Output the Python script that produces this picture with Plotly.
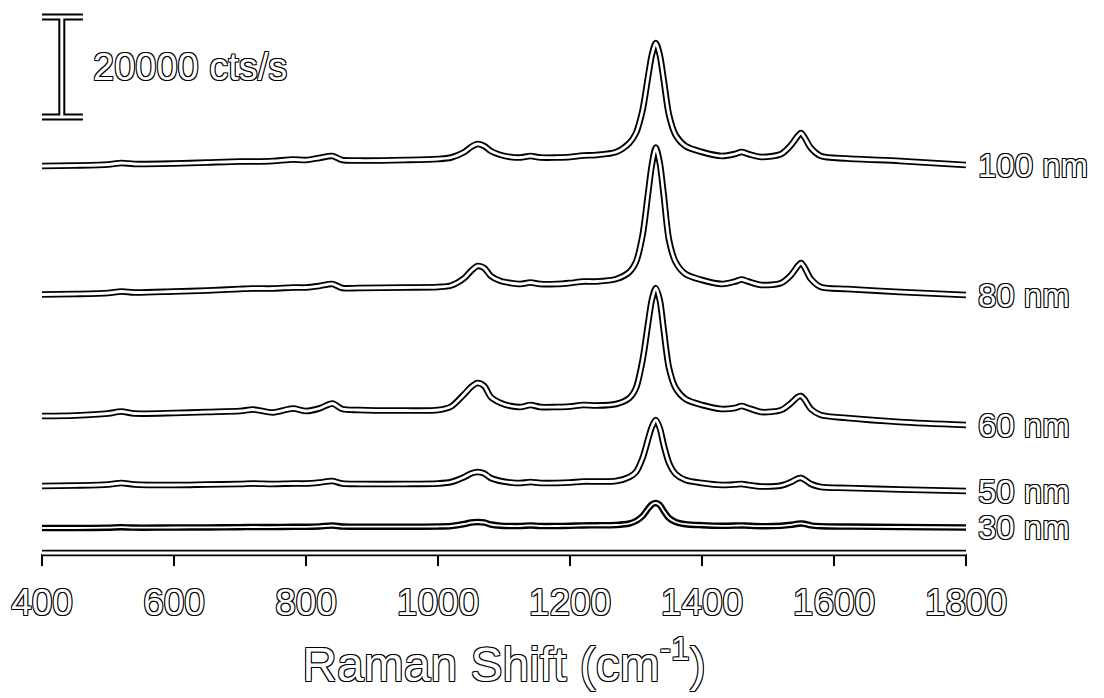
import plotly.graph_objects as go

# Raman shift grid (cm^-1)
shift = [400, 450, 500, 520, 540, 600, 650, 700, 720, 750, 780, 800, 820, 840, 855, 880, 950,
         1000, 1020, 1040, 1050, 1060, 1070, 1080, 1095, 1110, 1125, 1140, 1155, 1180, 1200,
         1220, 1240, 1270, 1290, 1300, 1310, 1318, 1324, 1330, 1336, 1342, 1350, 1360, 1375,
         1400, 1430, 1450, 1460, 1470, 1490, 1520, 1535, 1545, 1550, 1555, 1565, 1580, 1620,
         1700, 1800]

labels = ["100 nm", "80 nm", "60 nm", "50 nm", "30 nm"]
offsets = [77400, 51700, 27400, 13400, 5000]   # vertical stacking offsets (cts/s)

i100 = [0, 100, 300, 600, 400, 500, 700, 900, 900, 1000, 1300, 1200, 1600, 2000, 1200, 1100, 1200,
        1400, 1700, 2800, 3800, 4400, 4000, 3000, 2200, 1800, 1700, 2000, 1700, 1700, 1800,
        2100, 2200, 2800, 4600, 6600, 11200, 17600, 22200, 24600, 22200, 17200, 10200, 6200, 4000,
        2800, 2000, 2400, 2800, 2400, 1800, 2400, 4200, 6000, 6600, 5800, 3600, 2000, 1500,
        1000, 200]
i80 = [0, 100, 300, 600, 400, 600, 800, 1100, 1200, 1200, 1400, 1400, 1700, 2100, 1300, 1300, 1400,
       1500, 1800, 3300, 4700, 5700, 5300, 3700, 2700, 2300, 2100, 2400, 2100, 2100, 2300,
       2600, 2600, 3100, 4500, 6500, 11900, 19900, 25900, 29400, 26300, 19900, 10900, 6500, 4100,
       2900, 2100, 2600, 3000, 2600, 1900, 2300, 3900, 5700, 6300, 5500, 3100, 1500, 1100,
       500, -100]
i60 = [0, 100, 500, 900, 500, 600, 800, 1000, 1300, 700, 1500, 1000, 1500, 2500, 1400, 1200, 1100,
       1200, 1900, 4400, 5800, 6600, 6000, 3800, 2600, 2000, 1800, 2200, 1800, 1800, 1900,
       2200, 2100, 2400, 3600, 5600, 11200, 18200, 23200, 25600, 23200, 17200, 9600, 5600, 3400,
       2200, 1400, 1600, 2000, 1600, 800, 1200, 2600, 3800, 4000, 3400, 1400, 200, -400,
       -1200, -1800]
i50 = [0, 100, 300, 600, 300, 200, 300, 400, 500, 400, 500, 500, 700, 1000, 500, 400, 400,
       500, 800, 1800, 2500, 2800, 2500, 1600, 1000, 700, 600, 800, 600, 600, 700,
       900, 900, 1000, 1800, 2800, 5600, 9200, 11800, 13200, 11600, 8200, 4600, 2400, 1200,
       600, 200, 300, 400, 200, -100, 100, 800, 1500, 1600, 1300, 400, -200, -400,
       -700, -1000]
i30 = [0, 0, 60, 160, 80, 100, 120, 160, 200, 180, 240, 240, 320, 500, 280, 260, 260,
       300, 400, 800, 1100, 1200, 1100, 700, 460, 400, 400, 520, 400, 400, 440,
       520, 540, 600, 900, 1400, 2400, 3800, 4700, 5000, 4600, 3400, 2000, 1200, 760,
       560, 440, 480, 520, 460, 360, 440, 640, 860, 920, 840, 520, 360, 280,
       200, 100]
series = [i100, i80, i60, i50, i30]

scale_bar = 20000          # cts/s
x_ticks = [400, 600, 800, 1000, 1200, 1400, 1600, 1800]

FONT = "Liberation Sans, Arial, sans-serif"
OUTLINE = "-1px -1px 0 #000, 1px -1px 0 #000, -1px 1px 0 #000, 1px 1px 0 #000"

fig = go.Figure()
for lab, off, ys in zip(labels, offsets, series):
    yy = [off + v for v in ys]
    fig.add_trace(go.Scatter(x=shift, y=yy, mode="lines", name=lab, showlegend=False,
                             line=dict(color="black", width=6.5, shape="spline", smoothing=0.8),
                             hoverinfo="skip"))
    fig.add_trace(go.Scatter(x=shift, y=yy, mode="lines", name=lab, showlegend=False,
                             line=dict(color="white", width=2.8 if lab != "30 nm" else 1.8,
                                       shape="spline", smoothing=0.8)))
    fig.add_annotation(x=shift[-1], y=yy[-1], xref="x", yref="y", text=lab,
                       showarrow=False, xanchor="left", yanchor="middle", xshift=10,
                       font=dict(family=FONT, size=33, color="white", shadow=OUTLINE))

# outlined axis line
for col, w in (("black", 6.5), ("white", 2.8)):
    fig.add_shape(type="line", xref="x", yref="paper", x0=400, x1=1800, y0=0, y1=0,
                  line=dict(color=col, width=w), layer="above")

# scale bar (I-beam)
bx, half = 430, 32
y_top = 107200
y_bot = y_top - scale_bar
for col, w in (("black", 7), ("white", 3)):
    for (x0, y0, x1, y1) in ((bx, y_bot, bx, y_top), (bx - half, y_top, bx + half, y_top),
                             (bx - half, y_bot, bx + half, y_bot)):
        fig.add_shape(type="line", xref="x", yref="y", x0=x0, y0=y0, x1=x1, y1=y1,
                      line=dict(color=col, width=w), layer="above")
fig.add_annotation(x=bx + half + 12, y=(y_top + y_bot) / 2, xref="x", yref="y",
                   text=f"{scale_bar} cts/s", showarrow=False, xanchor="left", yanchor="middle",
                   font=dict(family=FONT, size=38, color="white", shadow=OUTLINE))

fig.update_layout(
    width=1104, height=698,
    margin=dict(l=42, r=138, t=10, b=145),
    paper_bgcolor="white", plot_bgcolor="white",
    xaxis=dict(range=[400, 1800], tickvals=x_ticks, ticks="outside", ticklen=12, tickwidth=2,
               tickcolor="black", showgrid=False, zeroline=False, showline=False,
               ticklabelstandoff=5,
               tickfont=dict(family=FONT, size=37, color="white", shadow=OUTLINE),
               title=dict(text="Raman Shift (cm<sup>-1</sup>)", standoff=24,
                          font=dict(family=FONT, size=48, color="white", shadow=OUTLINE))),
    yaxis=dict(range=[0, 108600], visible=False, showgrid=False, zeroline=False),
)

fig.write_html("out.html")
